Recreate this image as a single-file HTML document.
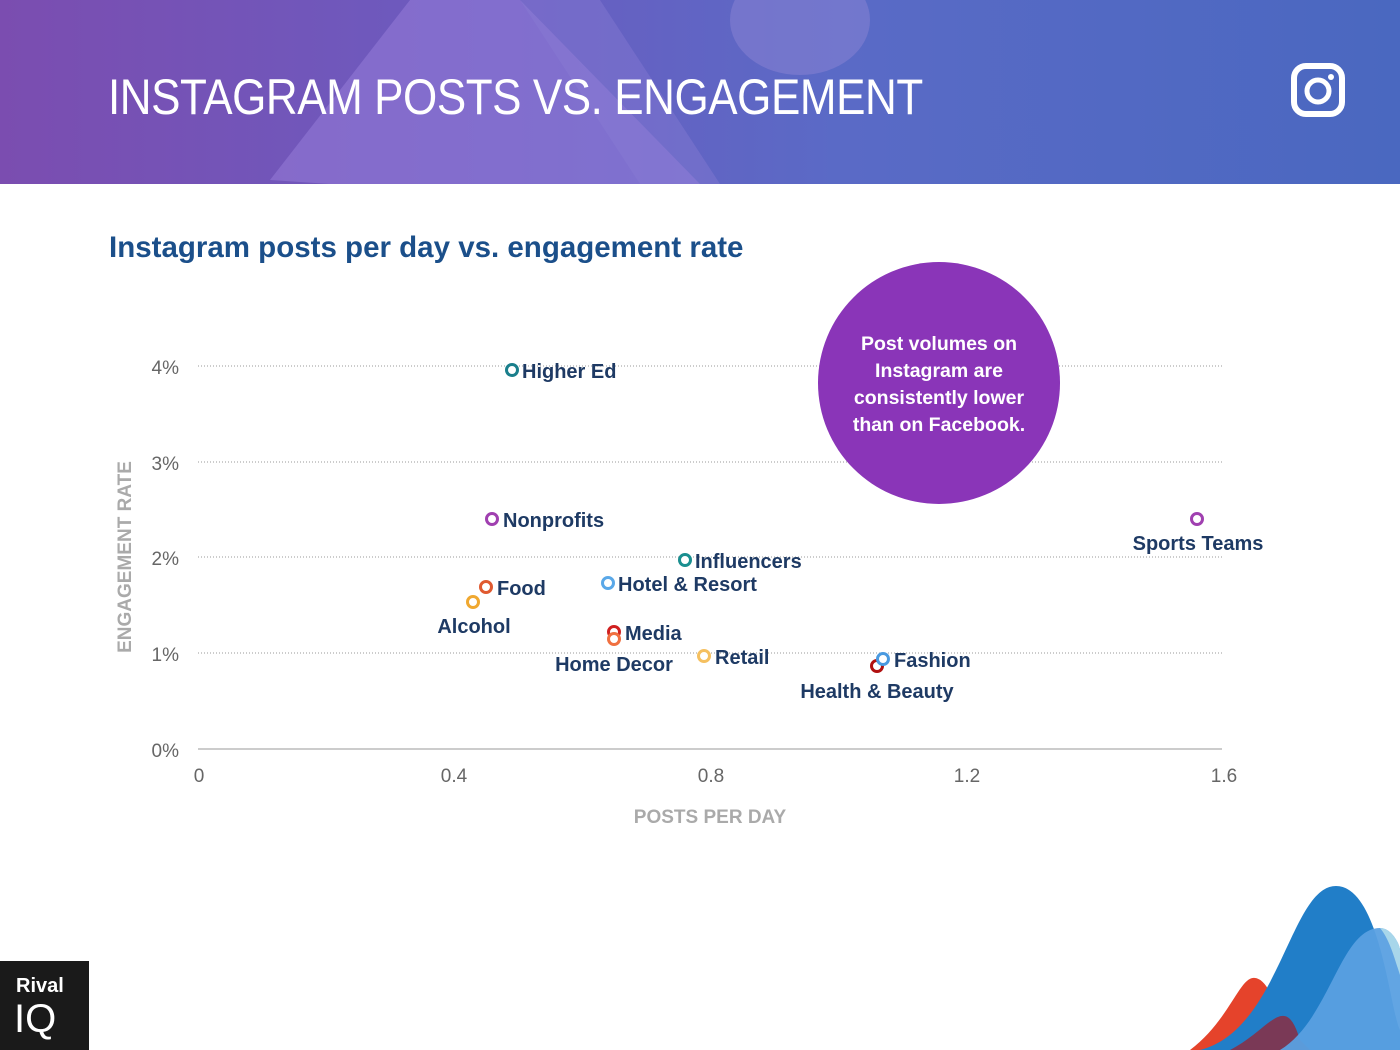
<!DOCTYPE html>
<html><head><meta charset="utf-8"><style>
body{margin:0;width:1400px;height:1050px;overflow:hidden;background:#fff;font-family:"Liberation Sans",sans-serif;position:relative}
.hdr{position:absolute;left:0;top:0;width:1400px;height:184px;background:linear-gradient(90deg,#7b4db0 0%,#6b5cc0 35%,#5a6ac6 60%,#4a68c0 100%);overflow:hidden}
.ttl{position:absolute;left:108px;top:68px;color:#fff;font-size:50px;font-weight:normal;letter-spacing:-0.5px;transform:scaleX(0.88);transform-origin:left}
.sub{position:absolute;left:109px;top:231px;color:#1b4f8a;font-size:29.5px;font-weight:bold}
</style></head><body>
<div class="hdr">
<svg width="1400" height="184" style="position:absolute;left:0;top:0">
<polygon points="410,0 520,0 700,184 330,184 270,180" fill="#9a80dc" opacity="0.5"/>
<polygon points="520,0 600,0 720,184 640,184" fill="#8a7ed4" opacity="0.4"/>
<ellipse cx="800" cy="20" rx="70" ry="55" fill="#8b84d4" opacity="0.5"/>
<rect x="1294" y="66" width="48" height="48" rx="12" fill="none" stroke="#fff" stroke-width="6"/>
<circle cx="1318" cy="91" r="11" fill="none" stroke="#fff" stroke-width="5"/>
<circle cx="1331" cy="77" r="3" fill="#fff"/>
</svg>
<div class="ttl">INSTAGRAM POSTS VS. ENGAGEMENT</div>
</div>
<div class="sub">Instagram posts per day vs. engagement rate</div>
<svg width="1400" height="1050" style="position:absolute;left:0;top:0" font-family="Liberation Sans, sans-serif">
<g stroke="#999" stroke-dasharray="1,2" stroke-width="1">
<line x1="198" y1="366" x2="1222" y2="366"/><line x1="198" y1="462" x2="1222" y2="462"/>
<line x1="198" y1="557" x2="1222" y2="557"/><line x1="198" y1="653" x2="1222" y2="653"/>
</g>
<line x1="198" y1="749" x2="1222" y2="749" stroke="#999"/>
<g font-size="19" fill="#666" text-anchor="end">
<text x="179" y="374">4%</text><text x="179" y="470">3%</text><text x="179" y="565">2%</text><text x="179" y="661">1%</text><text x="179" y="757">0%</text>
</g>
<g font-size="19" fill="#666" text-anchor="middle">
<text x="199" y="782">0</text><text x="454" y="782">0.4</text><text x="711" y="782">0.8</text><text x="967" y="782">1.2</text><text x="1224" y="782">1.6</text>
</g>
<text x="710" y="823" font-size="19" font-weight="bold" fill="#aaa" text-anchor="middle">POSTS PER DAY</text>
<text transform="translate(131,557) rotate(-90)" font-size="19" font-weight="bold" fill="#aaa" text-anchor="middle">ENGAGEMENT RATE</text>
<g fill="#fff" stroke-width="3">
<circle cx="512" cy="370" r="5.5" stroke="#1a7f8c"/>
<circle cx="492" cy="519" r="5.5" stroke="#a040b0"/>
<circle cx="685" cy="560" r="5.5" stroke="#1a8f90"/>
<circle cx="608" cy="583" r="5.5" stroke="#5aa8e8"/>
<circle cx="486" cy="587" r="5.5" stroke="#e05a30"/>
<circle cx="473" cy="602" r="5.5" stroke="#f0a830"/>
<circle cx="614" cy="632" r="5.5" stroke="#d02020"/>
<circle cx="614" cy="639" r="5.5" stroke="#f07040"/>
<circle cx="704" cy="656" r="5.5" stroke="#f5c060"/>
<circle cx="877" cy="666" r="5.5" stroke="#b01010"/>
<circle cx="883" cy="659" r="5.5" stroke="#4a9ae0"/>
<circle cx="1197" cy="519" r="5.5" stroke="#a040b0"/>
</g>
<g font-size="20" font-weight="bold" fill="#1e3a64">
<text x="522" y="378">Higher Ed</text>
<text x="503" y="527">Nonprofits</text>
<text x="695" y="568">Influencers</text>
<text x="618" y="591">Hotel &amp; Resort</text>
<text x="497" y="595">Food</text>
<text x="474" y="633" text-anchor="middle">Alcohol</text>
<text x="625" y="640">Media</text>
<text x="614" y="671" text-anchor="middle">Home Decor</text>
<text x="715" y="664">Retail</text>
<text x="894" y="667">Fashion</text>
<text x="877" y="698" text-anchor="middle">Health &amp; Beauty</text>
<text x="1198" y="550" text-anchor="middle">Sports Teams</text>
</g>
<circle cx="939" cy="383" r="121" fill="#8a35b8"/>
<g font-size="19.5" font-weight="bold" fill="#fff" text-anchor="middle">
<text x="939" y="350">Post volumes on</text><text x="939" y="377">Instagram are</text>
<text x="939" y="404">consistently lower</text><text x="939" y="431">than on Facebook.</text>
</g>
<path d="M1190,1050 C1230,1020 1240,975 1255,978 C1275,980 1280,1040 1320,1050Z" fill="#e5432b"/>
<path d="M1200,1050 C1280,1030 1290,886 1336,886 C1380,886 1390,1010 1400,1030 L1400,1050Z" fill="#217ec8"/>
<path d="M1230,1050 C1270,1030 1285,990 1300,1040 L1310,1050Z" fill="#7f3650" opacity="0.95"/>
<path d="M1280,1050 C1330,1020 1340,928 1380,928 C1392,928 1400,945 1400,950 L1400,1050Z" fill="#5aa0e2" opacity="0.95"/>
<path d="M1380,928 C1392,928 1400,945 1400,950 L1400,975 C1395,960 1390,940 1380,928Z" fill="#a8d6ea"/>
<rect x="0" y="961" width="89" height="89" fill="#1a1a1a"/>
<text x="16" y="992" font-size="20" font-weight="bold" fill="#fff">Rival</text>
<text x="14" y="1032" font-size="40" fill="#fff">IQ</text>
</svg>
</body></html>
